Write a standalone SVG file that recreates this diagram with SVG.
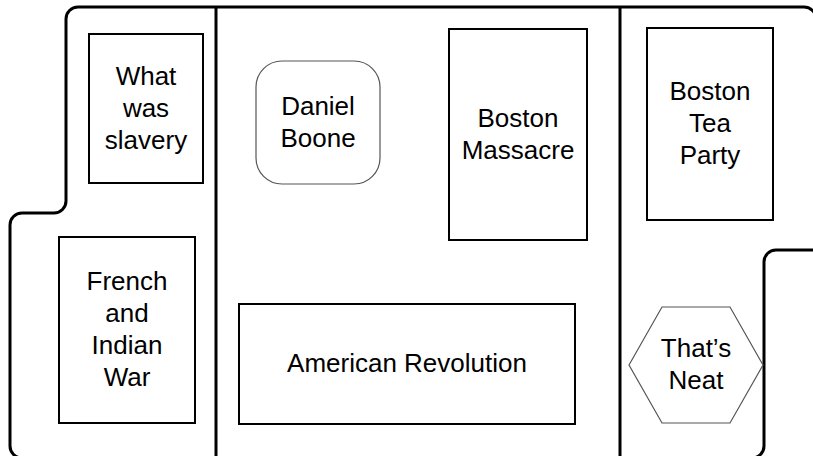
<svg xmlns="http://www.w3.org/2000/svg" width="813" height="456" viewBox="0 0 813 456">
<style>
.bx{fill:#fff;stroke:#000;stroke-width:2}
.soft{fill:#fff;stroke:#555;stroke-width:1.2}
.t{font-family:"Liberation Sans",Arial,sans-serif;font-size:26px;fill:#000;text-anchor:middle}
.wall{fill:none;stroke:#000;stroke-width:3;stroke-linejoin:round}
</style>
<rect width="813" height="456" fill="#fff"/>
<g id="connectors">
<path class="wall" d="M80 7 H804 A12 12 0 0 1 816 19 V250 H776 A12 12 0 0 0 764 262 V446 A12 12 0 0 1 752 458 H22 A12 12 0 0 1 10 446 V225 A12 12 0 0 1 22 213 H54 A12 12 0 0 0 66 201 V19 A12 12 0 0 1 78 7 Z"/>
<line class="wall" x1="216" y1="7" x2="216" y2="456"/>
<line class="wall" x1="620" y1="7" x2="620" y2="456"/>
</g>
<g id="slavery">
<rect class="bx" x="89" y="34" width="114" height="149"/>
<text class="t" x="146" y="84.5">What</text>
<text class="t" x="146" y="116.5">was</text>
<text class="t" x="146" y="148.5">slavery</text>
</g>
<g id="french">
<rect class="bx" x="59" y="237" width="136" height="186"/>
<text class="t" x="127" y="290">French</text>
<text class="t" x="127" y="322">and</text>
<text class="t" x="127" y="354">Indian</text>
<text class="t" x="127" y="386">War</text>
</g>
<g id="boone">
<rect class="soft" x="256" y="61" width="124" height="123" rx="26" ry="26"/>
<text class="t" x="318" y="114.5">Daniel</text>
<text class="t" x="318" y="146.5">Boone</text>
</g>
<g id="massacre">
<rect class="bx" x="449" y="29" width="138" height="211"/>
<text class="t" x="518" y="127">Boston</text>
<text class="t" x="518" y="159">Massacre</text>
</g>
<g id="revolution">
<rect class="bx" x="239" y="304" width="336" height="120"/>
<text class="t" x="407" y="372">American Revolution</text>
</g>
<g id="teaparty">
<rect class="bx" x="647" y="28" width="126" height="192"/>
<text class="t" x="710" y="100">Boston</text>
<text class="t" x="710" y="132">Tea</text>
<text class="t" x="710" y="164">Party</text>
</g>
<g id="neat">
<polygon class="soft" points="629,365 662,307 730,307 763,365 730,423 662,423"/>
<text class="t" x="696" y="357">That’s</text>
<text class="t" x="696" y="389">Neat</text>
</g>
</svg>
